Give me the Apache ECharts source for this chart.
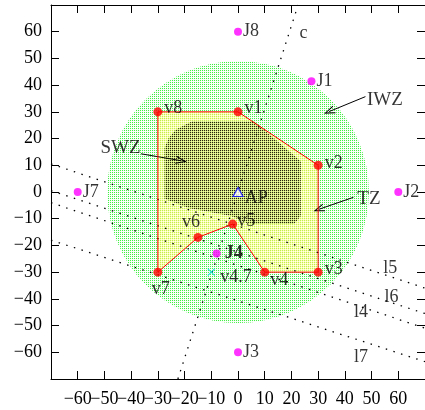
<!DOCTYPE html>
<html>
<head>
<meta charset="utf-8">
<script src="https://cdn.jsdelivr.net/npm/echarts@6/dist/echarts.min.js"></script>
<style>
html, body { margin: 0; padding: 0; background: #fff; }
#chart { width: 425px; height: 410px; }
</style>
</head>
<body>
<div id="chart"></div>
<script>
// polygon vertices (TZ), in drawing order
const vertexNames = ["v8", "v1", "v2", "v3", "v4", "v5", "v6", "v7"];
const vertexX = [-30, 0, 30, 30, 10, -2, -15, -30];
const vertexY = [30, 30, 10, -30, -30, -12, -17, -30];

// magenta points
const jNames = ["J8", "J1", "J2", "J3", "J4", "J7"];
const jX = [0, 27.5, 60, 0, -8, -60];
const jY = [60, 41.5, 0, -60, -23, 0];

const apPoint = [0, 0];
const v47Point = [-10, -30];

// IWZ disc
const iwzCenter = [0, 0];
const iwzRadius = 49;

// SWZ outline
const swzX = [-17, 6, 23.5, 23.5, 21, 4, -2.5, -18.5, -27.5, -27.5, -26, -23.5, -18.5];
const swzY = [26.5, 26.5, 11.5, -9, -12, -12, -9, -6, -2.5, 16.5, 20, 23.2, 25.8];

// dotted lines
const lineNames = ["c", "l4", "l5", "l6", "l7"];
const lineStartX = [-22.5, -70, -70, -70, -70];
const lineStartY = [-70, -4, 10.5, 0.5, -18];
const lineEndX = [22.5, 70, 70, 70, 70];
const lineEndY = [70, -51, -36, -45.5, -63.5];
const lineLabelX = [24.5, 46, 57, 57.5, 46];
const lineLabelY = [59.6, -45, -28.5, -39.4, -62];

// zone names with arrows
const zoneNames = ["IWZ", "SWZ", "TZ"];
const zoneTextX = [55, -44, 49];
const zoneTextY = [34.5, 16.3, -2.8];
const arrowFromX = [47.7, -36.3, 43.2];
const arrowFromY = [35.7, 14.3, -2];
const arrowToX = [34.1, -21.2, 30.2];
const arrowToY = [30.1, 11.7, -6.5];

const FONT = "Liberation Serif";
const FS = 18;

function makePattern(cols) {
  const c = document.createElement("canvas");
  c.width = 2;
  c.height = 2;
  const ctx = c.getContext("2d");
  cols.forEach(function (col, i) {
    ctx.fillStyle = col;
    ctx.fillRect(i % 2, Math.floor(i / 2), 1, 1);
  });
  return { image: c, repeat: "repeat" };
}
const greenFill = makePattern(["#44ee44", "#f4fff4", "#f4fff4", "#ffffff"]);
const yellowFill = makePattern(["#bbee55", "#ffffaa", "#ffffaa", "#ffffee"]);
const darkFill = makePattern(["#222211", "#cce077", "#cce077", "#eeffaa"]);

// label placement per point name
const labelPlace = {
  v8: { position: "right", offset: [-3, -4] },
  v1: { position: "right", offset: [-3, -4] },
  v2: { position: "right", offset: [-3, -2] },
  v3: { position: "right", offset: [-3, -3] },
  v4: { position: "right", offset: [-4, 8] },
  v5: { position: "right", offset: [-5, -3] },
  v6: { position: "top", offset: [-7, 3] },
  v7: { position: "bottom", offset: [3, -1] },
  J8: { position: "right", offset: [-4, 0] },
  J1: { position: "right", offset: [-4, 0] },
  J2: { position: "right", offset: [-4, 0] },
  J3: { position: "right", offset: [-4, 0] },
  J4: { position: "right", offset: [-1, 0], fontWeight: "bold" },
  J7: { position: "right", offset: [-4, 0] }
};

function minus(v) {
  return v < 0 ? "\u2212" + Math.abs(v) : String(v);
}

const tick = { show: true, inside: true, length: 8, lineStyle: { color: "#000" } };
const axLine = { show: true, onZero: false, lineStyle: { color: "#000", width: 1 } };
const tickFont = { fontFamily: FONT, fontSize: FS, color: "#000" };
const textOnly = { color: "rgba(0,0,0,0)" };

const myChart = echarts.init(document.getElementById("chart"));

const series = [];

series.push({
  type: "custom",
  z: 1,
  data: [iwzCenter],
  renderItem: function (params, api) {
    const c = api.coord(iwzCenter);
    const r = api.size([iwzRadius, 0])[0];
    return { type: "circle", shape: { cx: c[0], cy: c[1], r: r }, style: { fill: greenFill } };
  }
});

series.push({
  type: "custom",
  z: 2,
  data: [[vertexX[0], vertexY[0]]],
  renderItem: function (params, api) {
    const pts = vertexX.map(function (x, i) { return api.coord([x, vertexY[i]]); });
    return { type: "polygon", shape: { points: pts }, style: { fill: yellowFill } };
  }
});

series.push({
  type: "custom",
  z: 3,
  data: [[swzX[0], swzY[0]]],
  renderItem: function (params, api) {
    const pts = swzX.map(function (x, i) { return api.coord([x, swzY[i]]); });
    return { type: "polygon", shape: { points: pts }, style: { fill: darkFill } };
  }
});

lineNames.forEach(function (n, i) {
  series.push({
    type: "line",
    z: 4,
    showSymbol: false,
    data: [[lineStartX[i], lineStartY[i]], [lineEndX[i], lineEndY[i]]],
    lineStyle: { color: "#000", width: 1.3, type: [1.5, 6.5] }
  });
});

series.push({
  type: "scatter",
  z: 7,
  symbolSize: 1,
  itemStyle: textOnly,
  data: lineNames.map(function (n, i) { return { name: n, value: [lineLabelX[i], lineLabelY[i]] }; }),
  label: { show: true, position: "inside", formatter: "{b}", fontFamily: FONT, fontSize: FS, color: "#000" }
});

// TZ edges
const edgeData = vertexX.map(function (x, i) { return [x, vertexY[i]]; });
edgeData.push([vertexX[0], vertexY[0]]);
series.push({
  type: "line",
  z: 5,
  showSymbol: false,
  data: edgeData,
  lineStyle: { color: "#ff0000", width: 1 },
  markLine: {
    silent: true,
    animation: false,
    symbol: ["none", "path://M5,0 L10,10 L8.6,10 L5,2.6 L1.4,10 L0,10 Z"],
    symbolSize: [8, 11],
    label: { show: false },
    lineStyle: { color: "#000", width: 1, type: "solid" },
    itemStyle: { color: "#000" },
    data: zoneNames.map(function (n, i) {
      return [{ coord: [arrowFromX[i], arrowFromY[i]] }, { coord: [arrowToX[i], arrowToY[i]] }];
    })
  }
});

series.push({
  type: "scatter",
  z: 6,
  symbol: "circle",
  symbolSize: 9,
  itemStyle: { color: "#ff0000" },
  data: vertexNames.map(function (n, i) {
    return { name: n, value: [vertexX[i], vertexY[i]], label: labelPlace[n] };
  }),
  label: { show: true, formatter: "{b}", fontFamily: FONT, fontSize: FS, color: "#000" }
});

series.push({
  type: "scatter",
  z: 6,
  symbol: "circle",
  symbolSize: 8,
  itemStyle: { color: "#ff00ff" },
  data: jNames.map(function (n, i) {
    return { name: n, value: [jX[i], jY[i]], label: labelPlace[n] };
  }),
  label: { show: true, formatter: "{b}", fontFamily: FONT, fontSize: FS, color: "#000" }
});

series.push({
  type: "scatter",
  z: 6,
  symbol: "triangle",
  symbolSize: [10, 9],
  itemStyle: { color: "#fff", borderColor: "#0000ff", borderWidth: 1.2 },
  data: [{ name: "AP", value: apPoint }],
  label: { show: true, formatter: "{b}", position: "right", offset: [-4, 6], fontFamily: FONT, fontSize: FS, color: "#000" }
});

series.push({
  type: "scatter",
  z: 6,
  symbol: "path://M0,0 L10,10 M10,0 L0,10",
  symbolSize: 7,
  itemStyle: { color: "none", borderColor: "#00dddd", borderWidth: 1.2 },
  data: [{ name: "v4.7", value: v47Point }],
  label: { show: true, formatter: "{b}", position: "right", offset: [-2, 5], fontFamily: FONT, fontSize: FS, color: "#000" }
});

series.push({
  type: "scatter",
  z: 7,
  symbolSize: 1,
  itemStyle: textOnly,
  data: zoneNames.map(function (n, i) { return { name: n, value: [zoneTextX[i], zoneTextY[i]] }; }),
  label: { show: true, position: "inside", formatter: "{b}", fontFamily: FONT, fontSize: FS + 1, color: "#000" }
});

myChart.setOption({
  animation: false,
  backgroundColor: "#fff",
  grid: { left: 51, right: -1, top: 5, bottom: 31 },
  xAxis: [
    {
      type: "value", min: -70, max: 70, interval: 10, position: "bottom",
      axisLine: axLine, axisTick: tick, splitLine: { show: false },
      axisLabel: Object.assign({ margin: 11, showMinLabel: false, showMaxLabel: false, formatter: minus }, tickFont)
    },
    {
      type: "value", min: -70, max: 70, interval: 10, position: "top",
      axisLine: axLine, axisTick: tick, splitLine: { show: false }, axisLabel: { show: false }
    }
  ],
  yAxis: [
    {
      type: "value", min: -70, max: 70, interval: 10, position: "left",
      axisLine: axLine, axisTick: tick, splitLine: { show: false },
      axisLabel: Object.assign({ margin: 9, showMinLabel: false, showMaxLabel: false, formatter: minus }, tickFont)
    },
    {
      type: "value", min: -70, max: 70, interval: 10, position: "right",
      axisLine: axLine, axisTick: tick, splitLine: { show: false }, axisLabel: { show: false }
    }
  ],
  series: series
});
</script>
</body>
</html>
